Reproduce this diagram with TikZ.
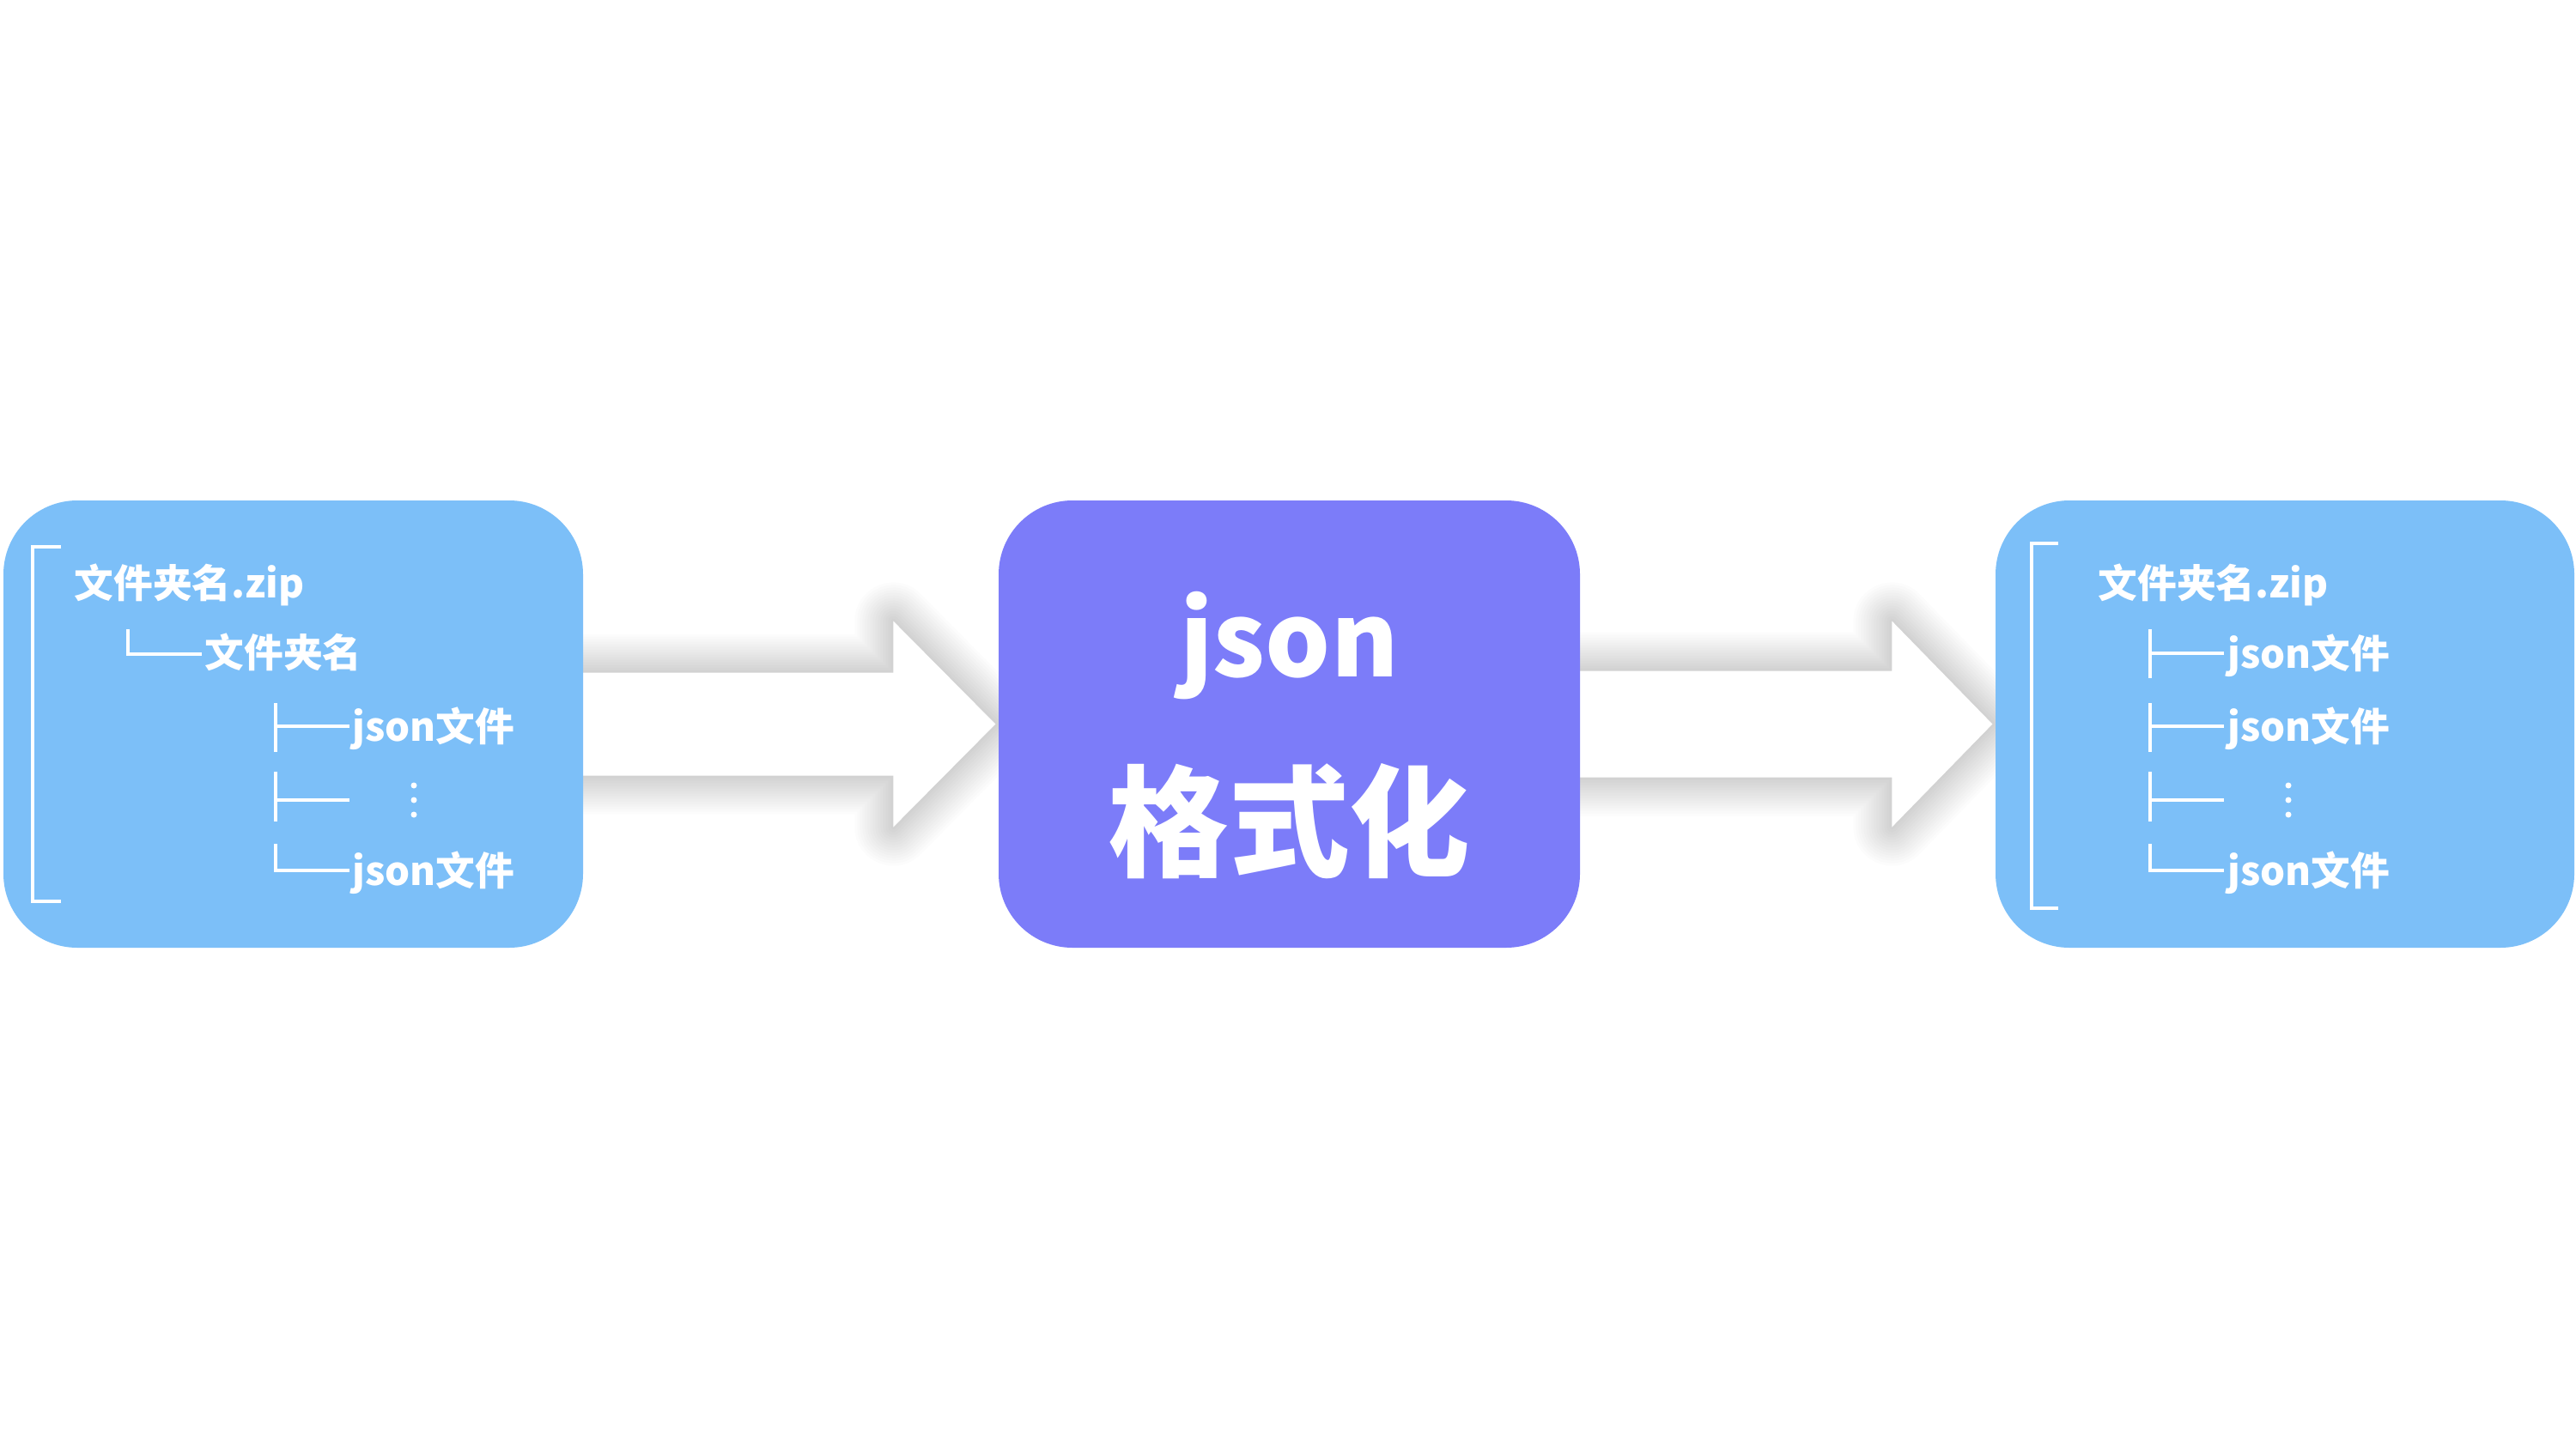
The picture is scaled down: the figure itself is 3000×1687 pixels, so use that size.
\documentclass[tikz,border=0pt]{standalone}
\usepackage{fontspec}
\newfontfamily\cjk{Noto Sans CJK SC}
\usetikzlibrary{calc}
\pgfdeclarelayer{bg}
\pgfsetlayers{bg,main}
\definecolor{boxblue}{HTML}{7CBFF8}
\definecolor{boxpurple}{HTML}{7C7CF9}
\tikzset{
  panel/.style={rounded corners=8.6mm, inner sep=0pt, draw=none, minimum height=52.1mm},
  glow/.style={draw=black, line join=round, draw opacity=0.013},
  treeline/.style={draw=white, line width=0.35mm},
  lbl/.style={text=white, font=\cjk\bfseries\fontsize{13}{15}\selectfont, anchor=base west, inner sep=0pt},
  bigl/.style={text=white, font=\cjk\bfseries\fontsize{40}{44}\selectfont, inner sep=0pt},
}
\begin{document}
\begin{tikzpicture}[x=0.1mm, y=-0.1mm]
\useasboundingbox (0,0) rectangle (3000,1687);
% panels
\node[panel, fill=boxblue, minimum width=67.5mm] (L) at (341.5,843.5) {};
\node[panel, fill=boxpurple, minimum width=67.7mm] (C) at (1501.5,843.5) {};
\node[panel, fill=boxblue, minimum width=67.4mm] (R) at (2661,843.5) {};
% arrow outline points
\coordinate (a1) at ($(L.east)+(-10,-60)$);
\coordinate (a2) at ($(C.west)+(-122,-60)$);
\coordinate (a3) at ($(C.west)+(-122,-120)$);
\coordinate (a4) at ($(C.west)+(-3,0)$);
\coordinate (a5) at ($(C.west)+(-122,120)$);
\coordinate (a6) at ($(C.west)+(-122,60)$);
\coordinate (a7) at ($(L.east)+(-10,60)$);
\coordinate (b1) at ($(C.east)+(-10,-62)$);
\coordinate (b2) at ($(R.west)+(-120,-62)$);
\coordinate (b3) at ($(R.west)+(-120,-120)$);
\coordinate (b4) at ($(R.west)+(-3,0)$);
\coordinate (b5) at ($(R.west)+(-120,120)$);
\coordinate (b6) at ($(R.west)+(-120,62)$);
\coordinate (b7) at ($(C.east)+(-10,62)$);
\begin{pgfonlayer}{bg}
\fill[white] (0,0) rectangle (3000,1687);
\begin{scope}[xshift=0.6mm, yshift=-0.2mm]
\foreach \w in {6,12,18,24,30,36,42,48,54,60,66,72,78,84,90} {
  \draw[glow, line width=\w*0.1mm] (a1) -- (a2) -- (a3) -- (a4) -- (a5) -- (a6) -- (a7) -- cycle;
  \draw[glow, line width=\w*0.1mm] (b1) -- (b2) -- (b3) -- (b4) -- (b5) -- (b6) -- (b7) -- cycle;
}
\end{scope}
\fill[white] (a1) -- (a2) -- (a3) -- (a4) -- (a5) -- (a6) -- (a7) -- cycle;
\fill[white] (b1) -- (b2) -- (b3) -- (b4) -- (b5) -- (b6) -- (b7) -- cycle;
\end{pgfonlayer}
% center text
\node[bigl, anchor=base, font=\cjk\bfseries\fontsize{34}{38}\selectfont] (cj) at (1501.5,788) {json};
\node[bigl, anchor=center] (cf) at (1501.5,957) {格式化};
% left tree
\draw[treeline] (71,637) -- (38,637) -- (38,1050) -- (71,1050);
\node[lbl] (l1) at (86,696) {文件夹名.zip};
\draw[treeline] (149,733) -- (149,762) -- (235,762);
\node[lbl] (l2) at (238,777) {文件夹名};
\draw[treeline] (321,819) -- (321,876) (321,846) -- (407,846);
\node[lbl] (l3) at (410,863) {json文件};
\draw[treeline] (321,899) -- (321,957) (321,932) -- (407,932);
\fill[white] (482,915) circle (3.5) (482,932) circle (3.5) (482,949) circle (3.5);
\draw[treeline] (321,983) -- (321,1014) -- (407,1014);
\node[lbl] (l5) at (410,1031) {json文件};
% right tree
\draw[treeline] (2397,633) -- (2366,633) -- (2366,1058) -- (2397,1058);
\node[lbl] (r1) at (2443,696) {文件夹名.zip};
\draw[treeline] (2504,733) -- (2504,790) (2504,761) -- (2590,761);
\node[lbl] (r2) at (2594,778) {json文件};
\draw[treeline] (2504,819) -- (2504,876) (2504,846) -- (2590,846);
\node[lbl] (r3) at (2594,863) {json文件};
\draw[treeline] (2504,899) -- (2504,957) (2504,932) -- (2590,932);
\fill[white] (2665,915) circle (3.5) (2665,932) circle (3.5) (2665,949) circle (3.5);
\draw[treeline] (2504,983) -- (2504,1014) -- (2590,1014);
\node[lbl] (r5) at (2594,1031) {json文件};
\end{tikzpicture}
\end{document}
